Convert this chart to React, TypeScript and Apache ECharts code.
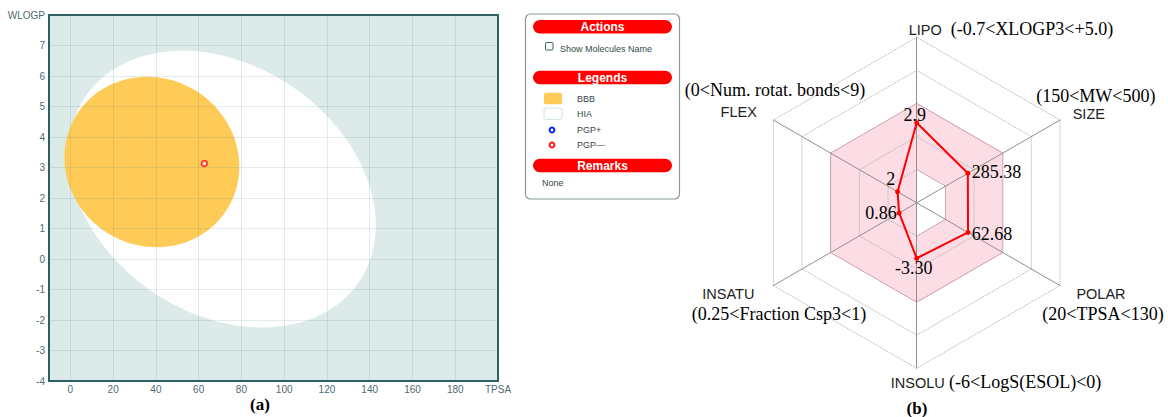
import React, { useEffect, useRef } from 'react';
import * as echarts from 'echarts';

// ---------- Panel (a): BOILED-Egg ----------
const tpsaTicks = [0, 20, 40, 60, 80, 100, 120, 140, 160, 180, 200];
const tpsaMin = -10;
const tpsaMax = 200;
const wlogpMin = -4;
const wlogpMax = 8;
const eggNames = ['HIA', 'BBB'];
const eggCenterTPSA = [71.05, 38.1];
const eggCenterWLOGP = [2.29, 3.18];
const eggHalfWidthTPSA = [71.8, 40.9];
const eggWLOGPShiftAtWidest = [-1.18, -0.15];
const eggHalfHeightWLOGP = [4.38, 2.79];
const moleculeTPSA = [62.68];
const moleculeWLOGP = [3.13];

// ---------- Panel (b): bioavailability radar ----------
const radarAxes = ['LIPO', 'FLEX', 'INSATU', 'INSOLU', 'POLAR', 'SIZE'];
const radarRanges = [
  '(-0.7<XLOGP3<+5.0)',
  '(0<Num. rotat. bonds<9)',
  '(0.25<Fraction Csp3<1)',
  '(-6<LogS(ESOL)<0)',
  '(20<TPSA<130)',
  '(150<MW<500)',
];
const radarMin = [0, 0, 0, -10, 0, 0];
const radarMax = [6, 15, 7, 10, 175, 800];
const radarValues = [2.9, 2, 0.86, -3.3, 62.68, 285.38];
const radarValueLabels = ['2.9', '2', '0.86', '-3.30', '62.68', '285.38'];
const optimalOuter = [0.6, 0.6, 0.6, 0.6, 0.6, 0.6];
const optimalInner = [0.2, 0, 0, 0.2, 0.2, 0.2];

const SANS = '"Liberation Sans", Arial, sans-serif';
const SERIF = '"Liberation Serif", "Times New Roman", serif';

const eggColors = ['#ffffff', '#ffcb57'];

const nameLayout: Record<string, { n: [number, number, string]; r: [number, number, string]; v: [number, number, string] }> = {
  LIPO: { n: [925.2, 29.5, 'center'], r: [950.7, 28.5, 'left'], v: [914.8, 115, 'center'] },
  FLEX: { n: [738.7, 111.7, 'center'], r: [775, 90, 'center'], v: [890.8, 179.3, 'center'] },
  INSATU: { n: [728.3, 294, 'center'], r: [779, 314, 'center'], v: [896.7, 213.3, 'right'] },
  INSOLU: { n: [917.8, 382.7, 'center'], r: [949, 382, 'left'], v: [913.8, 268.3, 'center'] },
  POLAR: { n: [1101, 294.3, 'center'], r: [1103, 314.3, 'center'], v: [971.7, 234.3, 'left'] },
  SIZE: { n: [1088.8, 114.3, 'center'], r: [1095.8, 95.7, 'center'], v: [971.7, 171.7, 'left'] },
};

function T(text: string, x: number, y: number, font: string, fill = '#000', align = 'center') {
  return {
    type: 'text',
    x,
    y,
    z: 50,
    silent: true,
    style: { text, font, fill, textAlign: align, textVerticalAlign: 'middle' },
  };
}

function buildOption() {
  const labelColor = '#4f6a72';
  const gridLine = { show: true, lineStyle: { color: 'rgba(80,130,130,0.16)', width: 1 } };

  const graphics: any[] = [];
  // Legend panel
  graphics.push({
    type: 'rect',
    silent: true,
    z: 40,
    shape: { x: 525.5, y: 14, width: 154, height: 185, r: 5 },
    style: { fill: '#fff', stroke: '#8a9899', lineWidth: 1.2 },
  });
  const bars: [string, number][] = [['Actions', 20], ['Legends', 70.7], ['Remarks', 158.7]];
  bars.forEach(([label, y]) => {
    graphics.push({
      type: 'rect',
      silent: true,
      z: 45,
      shape: { x: 533, y, width: 139, height: 13.5, r: 6.7 },
      style: { fill: '#ff0000' },
    });
    graphics.push(T(label, 602.5, y + 7, `bold 12px ${SANS}`, '#ffffff'));
  });
  graphics.push({
    type: 'rect',
    silent: true,
    z: 45,
    shape: { x: 545.5, y: 42.5, width: 7.5, height: 7.5, r: 1 },
    style: { fill: '#fff', stroke: '#3d6066', lineWidth: 1 },
  });
  graphics.push(T('Show Molecules Name', 560, 49, `9px ${SANS}`, '#35474c', 'left'));
  graphics.push({
    type: 'rect',
    silent: true,
    z: 45,
    shape: { x: 544, y: 92.7, width: 18, height: 11.5, r: 2 },
    style: { fill: '#ffcb57' },
  });
  graphics.push({
    type: 'rect',
    silent: true,
    z: 45,
    shape: { x: 544, y: 108, width: 18, height: 11.5, r: 2 },
    style: { fill: '#fff', stroke: '#d5e2e2', lineWidth: 1 },
  });
  graphics.push({
    type: 'circle',
    silent: true,
    z: 45,
    shape: { cx: 552, cy: 130, r: 2.4 },
    style: { fill: '#fff', stroke: '#0026ff', lineWidth: 2 },
  });
  graphics.push({
    type: 'circle',
    silent: true,
    z: 45,
    shape: { cx: 552, cy: 145, r: 2.4 },
    style: { fill: '#fff', stroke: '#ff1a1a', lineWidth: 2 },
  });
  graphics.push(T('BBB', 577, 98.5, `9px ${SANS}`, '#35474c', 'left'));
  graphics.push(T('HIA', 577, 114, `9px ${SANS}`, '#35474c', 'left'));
  graphics.push(T('PGP+', 577, 130, `9px ${SANS}`, '#35474c', 'left'));
  graphics.push(T('PGP\u2014', 577, 145, `9px ${SANS}`, '#35474c', 'left'));
  graphics.push(T('None', 542, 183, `9px ${SANS}`, '#35474c', 'left'));

  // Panel captions
  graphics.push(T('(a)', 260, 404, `bold 17px ${SERIF}`, '#000'));
  graphics.push(T('(b)', 917, 408, `bold 17px ${SERIF}`, '#000'));

  // Radar names, ranges and value labels
  radarAxes.forEach((ax, i) => {
    const L = nameLayout[ax];
    graphics.push(T(ax, L.n[0], L.n[1], `14.5px ${SANS}`, '#222', L.n[2]));
    graphics.push(T(radarRanges[i], L.r[0], L.r[1], `18px ${SERIF}`, '#000', L.r[2]));
    graphics.push(T(radarValueLabels[i], L.v[0], L.v[1], `18px ${SERIF}`, '#000', L.v[2]));
  });

  const radarCenter = [916.7, 202.8];
  const radarRadius = 165.5;

  return {
    animation: false,
    grid: {
      left: 49,
      top: 15,
      width: 449,
      height: 366,
      show: true,
      backgroundColor: '#ddeaea',
      borderColor: '#2f5e60',
      borderWidth: 2,
      z: 0,
    },
    xAxis: {
      type: 'value',
      min: tpsaMin,
      max: tpsaMax,
      z: 2,
      axisLine: { show: false },
      axisTick: { show: false, customValues: tpsaTicks },
      axisLabel: {
        customValues: tpsaTicks,
        formatter: (v: number) => (v === tpsaMax ? 'TPSA' : String(v)),
        color: labelColor,
        fontSize: 10,
        fontFamily: SANS,
        margin: 3,
      },
      splitLine: gridLine,
    },
    yAxis: {
      type: 'value',
      min: wlogpMin,
      max: wlogpMax,
      interval: 1,
      z: 2,
      axisLine: { show: false },
      axisTick: { show: false },
      axisLabel: {
        formatter: (v: number) => (v === wlogpMax ? 'WLOGP' : String(v)),
        color: labelColor,
        fontSize: 10,
        fontFamily: SANS,
        margin: 4,
      },
      splitLine: gridLine,
    },
    radar: [
      {
        indicator: radarAxes.map((n) => ({ name: n, min: 0, max: 1 })),
        center: radarCenter,
        radius: radarRadius,
        startAngle: 90,
        splitNumber: 5,
        shape: 'polygon',
        axisName: { show: false },
        axisLine: { show: false },
        axisTick: { show: false },
        axisLabel: { show: false },
        splitLine: { show: false },
        splitArea: { show: false },
        z: 0,
      },
      {
        indicator: radarAxes.map((n, i) => ({ name: n, min: radarMin[i], max: radarMax[i] })),
        center: radarCenter,
        radius: radarRadius,
        startAngle: 90,
        splitNumber: 5,
        shape: 'polygon',
        axisName: { show: false },
        axisLine: { show: true, lineStyle: { color: '#8f8f8f', width: 1 } },
        axisTick: { show: false },
        axisLabel: { show: false },
        splitLine: { show: true, lineStyle: { color: '#a8a8a8', width: 1, type: 'dotted' } },
        splitArea: { show: false },
        z: 2,
      },
    ],
    graphic: { elements: graphics },
    series: [
      {
        type: 'custom',
        coordinateSystem: 'cartesian2d',
        z: 1,
        silent: true,
        encode: { x: 0, y: 1 },
        data: eggNames.map((n, i) => [
          eggCenterTPSA[i],
          eggCenterWLOGP[i],
          eggHalfWidthTPSA[i],
          eggWLOGPShiftAtWidest[i],
          eggHalfHeightWLOGP[i],
        ]),
        renderItem: (params: any, api: any) => {
          const cx = api.value(0);
          const cy = api.value(1);
          const ux = api.value(2);
          const uy = api.value(3);
          const vy = api.value(4);
          const pts: number[][] = [];
          const N = 160;
          for (let k = 0; k < N; k++) {
            const t = (k / N) * Math.PI * 2;
            pts.push(api.coord([cx + ux * Math.cos(t), cy + uy * Math.cos(t) + vy * Math.sin(t)]));
          }
          return {
            type: 'polygon',
            shape: { points: pts },
            style: { fill: eggColors[params.dataIndex], stroke: null },
          };
        },
      },
      {
        type: 'scatter',
        z: 3,
        symbol: 'circle',
        symbolSize: 5.5,
        itemStyle: { color: '#ffffff', borderColor: '#ff1a1a', borderWidth: 2 },
        data: moleculeTPSA.map((x, i) => [x, moleculeWLOGP[i]]),
      },
      {
        type: 'radar',
        radarIndex: 0,
        z: 1,
        silent: true,
        symbol: 'none',
        data: [
          {
            name: 'optimal upper',
            value: optimalOuter,
            areaStyle: { color: '#fddde5', opacity: 1 },
            lineStyle: { color: '#e8798f', width: 1 },
          },
          {
            name: 'optimal lower',
            value: optimalInner,
            areaStyle: { color: '#ffffff', opacity: 1 },
            lineStyle: { color: '#e8798f', width: 1 },
          },
        ],
      },
      {
        type: 'radar',
        radarIndex: 1,
        z: 3,
        symbol: 'circle',
        symbolSize: 5,
        itemStyle: { color: '#ff0000' },
        lineStyle: { color: '#ff0000', width: 2 },
        data: [{ name: 'molecule', value: radarValues }],
      },
    ],
  };
}

export default function App() {
  const ref = useRef<HTMLDivElement>(null);
  useEffect(() => {
    if (!ref.current) return;
    const chart = echarts.init(ref.current, undefined, { renderer: 'svg' });
    chart.setOption(buildOption() as any);
    return () => chart.dispose();
  }, []);
  return (
    <div
      ref={ref}
      style={{ position: 'absolute', left: 0, top: 0, width: 1168, height: 417, background: '#fff' }}
    />
  );
}
